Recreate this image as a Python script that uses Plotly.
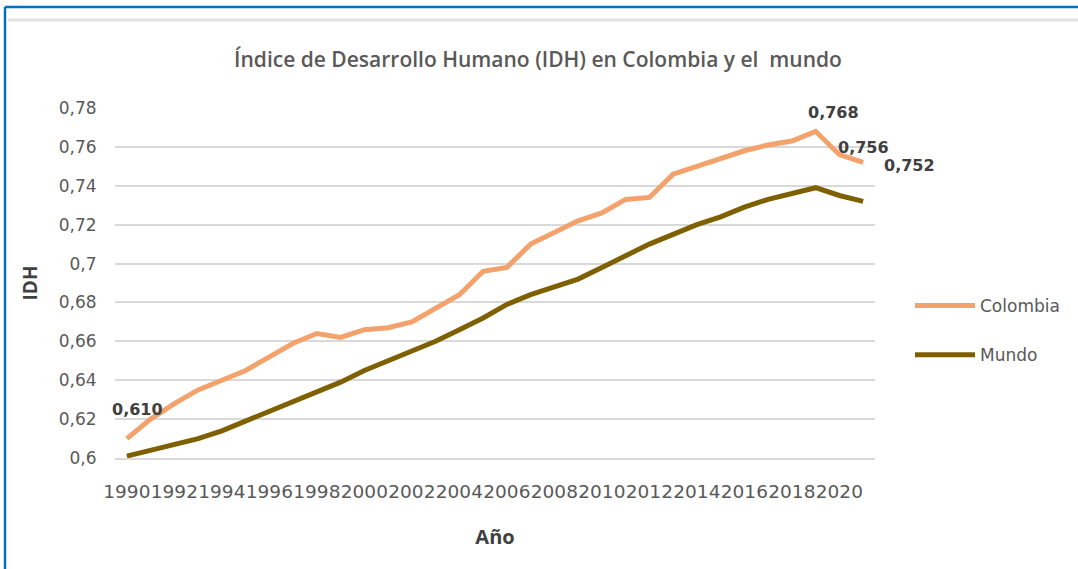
import plotly.graph_objects as go

years = list(range(1990, 2022))
colombia = [0.610, 0.620, 0.628, 0.635, 0.640, 0.645, 0.652, 0.659, 0.664, 0.662,
            0.666, 0.667, 0.670, 0.677, 0.684, 0.696, 0.698, 0.710, 0.716, 0.722,
            0.726, 0.733, 0.734, 0.746, 0.750, 0.754, 0.758, 0.761, 0.763, 0.768,
            0.756, 0.752]
mundo = [0.601, 0.604, 0.607, 0.610, 0.614, 0.619, 0.624, 0.629, 0.634, 0.639,
         0.645, 0.650, 0.655, 0.660, 0.666, 0.672, 0.679, 0.684, 0.688, 0.692,
         0.698, 0.704, 0.710, 0.715, 0.720, 0.724, 0.729, 0.733, 0.736, 0.739,
         0.735, 0.732]
tick_years = list(range(1990, 2021, 2))
labeled_idx = [0, 29, 30, 31]
label_shifts = [(11, 29), (18, 19), (24, 7), (46, -3)]

title = "Índice de Desarrollo Humano (IDH) en Colombia y el  mundo"
c_col = "#F3A26C"
c_mun = "#7F6000"
grey = "#595959"

W, H = 1078, 569
L, R, T, B = 115, 203, 108, 111
pw, ph = W - L - R, H - T - B

def px(x):
    return (x - L) / pw

def py(y):
    return (H - B - y) / ph

fig = go.Figure()
fig.add_trace(go.Scatter(x=years, y=colombia, mode="lines", name="Colombia",
                         line=dict(color=c_col, width=5), legendgroup="a", cliponaxis=False))
fig.add_trace(go.Scatter(x=years, y=mundo, mode="lines", name="Mundo",
                         line=dict(color=c_mun, width=5), legendgroup="b", cliponaxis=False))

for i, (dx, dy) in zip(labeled_idx, label_shifts):
    fig.add_annotation(x=years[i], y=colombia[i],
                       text=f"{colombia[i]:.3f}".replace(".", ","),
                       showarrow=False, xshift=dx, yshift=dy,
                       font=dict(family="DejaVu Sans", size=16, color="#404040", weight="bold"))

shapes = [
    dict(type="line", xref="paper", yref="paper", x0=px(8), x1=px(W), y0=py(20), y1=py(20),
         line=dict(color="#e3e3e3", width=3)),
    dict(type="line", xref="paper", yref="paper", x0=px(5), x1=px(W), y0=py(7), y1=py(7),
         line=dict(color="#0070C0", width=2.5)),
    dict(type="line", xref="paper", yref="paper", x0=px(5), x1=px(5), y0=py(7), y1=py(H),
         line=dict(color="#0070C0", width=2.5)),
]

fig.update_layout(
    width=W, height=H,
    margin=dict(l=L, r=R, t=T, b=B, autoexpand=False),
    paper_bgcolor="white", plot_bgcolor="white",
    separators=",.",
    shapes=shapes,
    title=dict(text=title, x=538 / W, xanchor="center", y=1 - 60 / H, yanchor="middle",
               font=dict(family="Open Sans", size=21, color=grey, weight=600)),
    xaxis=dict(range=[1989.5, 2021.5], tickvals=tick_years, ticktext=[str(y) for y in tick_years],
               tickangle=0,
               showgrid=False, showline=True, linecolor="#d9d9d9", linewidth=1.5,
               ticks="outside", ticklen=16, tickcolor="rgba(0,0,0,0)",
               tickfont=dict(family="DejaVu Sans", size=18.5, color=grey),
               title=dict(text="<b>Año</b>", standoff=29,
                          font=dict(family="Open Sans", size=20, color="#404040"))),
    yaxis=dict(range=[0.6, 0.78], tick0=0.6, dtick=0.02, showgrid=True,
               gridcolor="#d9d9d9", gridwidth=1.5, zeroline=False,
               ticks="outside", ticklen=14, tickcolor="rgba(0,0,0,0)",
               tickfont=dict(family="DejaVu Sans", size=17, color=grey),
               title=dict(text="<b>IDH</b>", standoff=16,
                          font=dict(family="Open Sans", size=19, color="#404040"))),
    legend=dict(x=px(910), y=py(288), xanchor="left", yanchor="top",
                font=dict(family="DejaVu Sans", size=17, color=grey),
                tracegroupgap=24, itemwidth=60, bgcolor="rgba(0,0,0,0)"),
)

fig.write_html("out.html", post_script="document.body.style.margin='0';",
               config={"displayModeBar": False})
